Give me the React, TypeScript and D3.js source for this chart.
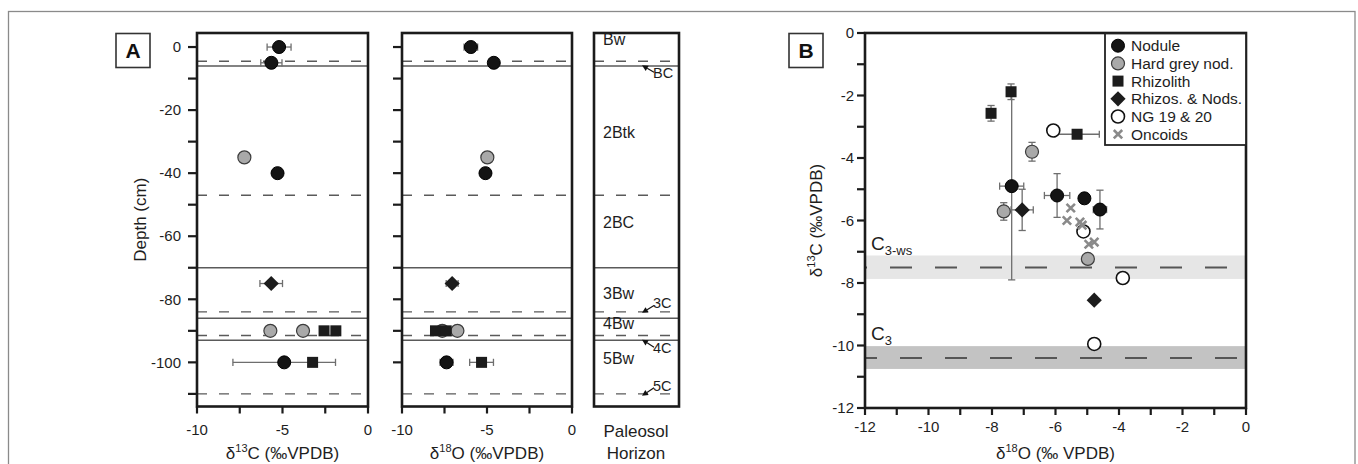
import React from "react";
import * as d3 from "d3";

const FONT = "'Liberation Sans', Arial, Helvetica, sans-serif";

// ---------- Panel A data (depth profile) ----------
const sampleDepth = [0, -5, -35, -40, -75, -90, -90, -90, -90, -100, -100];
const sampleType = [
  "Nodule", "Nodule", "Hard grey nod.", "Nodule", "Rhizos. & Nods.",
  "Hard grey nod.", "Hard grey nod.", "Rhizolith", "Rhizolith", "Nodule", "Rhizolith",
];
const sampleD13C = [-5.2, -5.65, -7.23, -5.29, -5.66, -5.71, -3.8, -2.57, -1.88, -4.9, -3.24];
const sampleD18O = [-5.95, -4.6, -4.98, -5.09, -7.05, -7.63, -6.74, -8.03, -7.4, -7.38, -5.32];
const sampleErr13 = [0.7, 0.62, 0, 0, 0.66, 0.28, 0.3, 0.25, 0.25, 3.0, 0];
const sampleErr18 = [0.4, 0.21, 0, 0, 0.35, 0.1, 0.1, 0, 0, 0.38, 0.7];

const boundaryDepth = [-4.5, -6, -47, -70, -84, -86, -91.5, -93, -110];
const boundaryKind = ["gradual", "sharp", "gradual", "sharp", "gradual", "sharp", "gradual", "sharp", "gradual"];

const horizonName = ["Bw", "2Btk", "2BC", "3Bw", "4Bw", "5Bw"];
const horizonDepth = [2.3, -27, -55.6, -78, -87.6, -98.7];
const transitionName = ["BC", "3C", "4C", "5C"];
const transitionLabelDepth = [-8.3, -81.3, -95.5, -107.4];
const transitionTargetDepth = [-5.8, -84.3, -92.8, -110.6];

const depthTicks = [0, -10, -20, -30, -40, -50, -60, -70, -80, -90, -100, -110];
const depthLabels = [0, -20, -40, -60, -80, -100];
const isoTicksA = [-10, -7.5, -5, -2.5, 0];
const isoLabelsA = [-10, -5, 0];

// ---------- Panel B extra data ----------
const ngD18O = [-6.07, -5.12, -3.88, -4.78];
const ngD13C = [-3.12, -6.35, -7.84, -9.95];
const oncoidD18O = [-5.52, -5.64, -5.23, -5.16, -4.95, -4.78];
const oncoidD13C = [-5.6, -6.0, -6.05, -6.15, -6.76, -6.69];
const extraRhizNodD18O = [-4.78];
const extraRhizNodD13C = [-8.55];

const bandNames = ["3-ws", "3"];
const bandTop = [-7.12, -10.02];
const bandBottom = [-7.87, -10.75];
const bandMean = [-7.5, -10.4];

const legendNames = ["Nodule", "Hard grey nod.", "Rhizolith", "Rhizos. & Nods.", "NG 19 & 20", "Oncoids"];

const bTicksX = [-12, -11, -10, -9, -8, -7, -6, -5, -4, -3, -2, -1, 0];
const bLabelsX = [-12, -10, -8, -6, -4, -2, 0];
const bTicksY = [0, -1, -2, -3, -4, -5, -6, -7, -8, -9, -10, -11, -12];
const bLabelsY = [0, -2, -4, -6, -8, -10, -12];

// ---------- layout ----------
const A_TOP = 33;
const A_BOTTOM = 406.5;
const yA = d3.scaleLinear().domain([4.45, -114]).range([A_TOP, A_BOTTOM]);
const x13 = d3.scaleLinear().domain([-10, 0]).range([197, 368]);
const x18 = d3.scaleLinear().domain([-10, 0]).range([402, 572]);
const HZ_L = 594;
const HZ_R = 679;

const xB = d3.scaleLinear().domain([-12, 0]).range([865, 1246]);
const yB = d3.scaleLinear().domain([0, -12]).range([33, 408]);

const DARK = "#1b1b1b";
const GRID = "#5a5a5a";
const ERR = "#6e6e6e";
const TXT = "#1e1e1e";

function Marker({ type, x, y }: { type: string; x: number; y: number }) {
  const r = 6.5;
  if (type === "Nodule") return <circle cx={x} cy={y} r={r} fill="#141414" stroke="#000" strokeWidth={1} />;
  if (type === "Hard grey nod.") return <circle cx={x} cy={y} r={r} fill="#a9a9a9" stroke="#3c3c3c" strokeWidth={1.2} />;
  if (type === "Rhizolith") return <rect x={x - 5.5} y={y - 5.5} width={11} height={11} fill="#1c1c1c" />;
  if (type === "Rhizos. & Nods.") {
    const d = 7.6;
    return <path d={`M${x},${y - d}L${x + d},${y}L${x},${y + d}L${x - d},${y}Z`} fill="#1c1c1c" />;
  }
  if (type === "NG 19 & 20") return <circle cx={x} cy={y} r={r} fill="#fff" stroke="#111" strokeWidth={1.6} />;
  const s = 4.2;
  return (
    <path d={`M${x - s},${y - s}L${x + s},${y + s}M${x - s},${y + s}L${x + s},${y - s}`} stroke="#8a8a8a" strokeWidth={2.6} />
  );
}

function ErrH({ y, x0, x1 }: { y: number; x0: number; x1: number }) {
  const c = 3.6;
  return (
    <g stroke={ERR} strokeWidth={1.3}>
      <line x1={x0} x2={x1} y1={y} y2={y} />
      <line x1={x0} x2={x0} y1={y - c} y2={y + c} />
      <line x1={x1} x2={x1} y1={y - c} y2={y + c} />
    </g>
  );
}
function ErrV({ x, y0, y1 }: { x: number; y0: number; y1: number }) {
  const c = 3.6;
  return (
    <g stroke={ERR} strokeWidth={1.3}>
      <line x1={x} x2={x} y1={y0} y2={y1} />
      <line x1={x - c} x2={x + c} y1={y0} y2={y0} />
      <line x1={x - c} x2={x + c} y1={y1} y2={y1} />
    </g>
  );
}

function Boundaries({ x0, x1 }: { x0: number; x1: number }) {
  return (
    <g>
      {boundaryDepth.map((d, i) => (
        <line
          key={i}
          x1={x0}
          x2={x1}
          y1={yA(d)}
          y2={yA(d)}
          stroke={GRID}
          strokeWidth={1.4}
          strokeDasharray={boundaryKind[i] === "gradual" ? "10 12" : undefined}
        />
      ))}
    </g>
  );
}

function DepthPlot({ xs, vals, errs, leftLabels }: { xs: any; vals: number[]; errs: number[]; leftLabels: boolean }) {
  const [l, r] = xs.range();
  return (
    <g>
      <Boundaries x0={l} x1={r} />
      {vals.map((v, i) =>
        errs[i] > 0 ? <ErrH key={"e" + i} y={yA(sampleDepth[i])} x0={xs(v - errs[i])} x1={xs(v + errs[i])} /> : null
      )}
      {vals.map((v, i) => (
        <Marker key={"m" + i} type={sampleType[i]} x={xs(v)} y={yA(sampleDepth[i])} />
      ))}
      <rect x={l} y={A_TOP} width={r - l} height={A_BOTTOM - A_TOP} fill="none" stroke={DARK} strokeWidth={2.6} />
      {depthTicks
        .filter((t) => leftLabels || t > -110)
        .map((t) => (
          <line key={"yt" + t} x1={l - 9} x2={l} y1={yA(t)} y2={yA(t)} stroke={DARK} strokeWidth={2.2} />
        ))}
      {leftLabels &&
        depthLabels.map((t) => (
          <text key={"yl" + t} x={l - 16} y={yA(t)} dy="0.35em" textAnchor="end" fontSize={15} fill={TXT}>
            {t}
          </text>
        ))}
      {isoTicksA.map((t) => (
        <line key={"xt" + t} x1={xs(t)} x2={xs(t)} y1={A_BOTTOM} y2={A_BOTTOM + 7} stroke={DARK} strokeWidth={2.2} />
      ))}
      {isoLabelsA.map((t) => (
        <text key={"xl" + t} x={xs(t)} y={435} textAnchor="middle" fontSize={15} fill={TXT}>
          {t}
        </text>
      ))}
    </g>
  );
}

function Arrow({ x0, y0, x1, y1 }: { x0: number; y0: number; x1: number; y1: number }) {
  const ang = Math.atan2(y1 - y0, x1 - x0);
  const L = 6;
  const w = 3;
  const bx = x1 - L * Math.cos(ang);
  const by = y1 - L * Math.sin(ang);
  const px = -Math.sin(ang) * w;
  const py = Math.cos(ang) * w;
  return (
    <g>
      <line x1={x0} y1={y0} x2={bx} y2={by} stroke="#111" strokeWidth={1.2} />
      <path d={`M${x1},${y1}L${bx + px},${by + py}L${bx - px},${by - py}Z`} fill="#111" />
    </g>
  );
}

export default function App() {
  const bMarkers: { t: string; x: number; y: number }[] = [];
  sampleD13C.forEach((v, i) => bMarkers.push({ t: sampleType[i], x: sampleD18O[i], y: v }));
  extraRhizNodD18O.forEach((v, i) => bMarkers.push({ t: "Rhizos. & Nods.", x: v, y: extraRhizNodD13C[i] }));
  ngD18O.forEach((v, i) => bMarkers.push({ t: "NG 19 & 20", x: v, y: ngD13C[i] }));
  oncoidD18O.forEach((v, i) => bMarkers.push({ t: "Oncoids", x: v, y: oncoidD13C[i] }));

  return (
    <svg
      width={1358}
      height={464}
      style={{ position: "absolute", left: 0, top: 0, background: "#fff" }}
      fontFamily={FONT}
    >
      <rect x={0} y={0} width={1358} height={464} fill="#fff" />
      <rect x={8.5} y={11.5} width={1346.5} height={470} fill="none" stroke="#8a8a8a" strokeWidth={1.3} />

      {/* ---------------- Panel A ---------------- */}
      <rect x={116} y={33.5} width={34} height={34} fill="#fff" stroke="#333" strokeWidth={1.6} />
      <text x={133} y={58} textAnchor="middle" fontSize={21} fontWeight="bold" fill="#111">
        A
      </text>

      <DepthPlot xs={x13} vals={sampleD13C} errs={sampleErr13} leftLabels={true} />
      <DepthPlot xs={x18} vals={sampleD18O} errs={sampleErr18} leftLabels={false} />

      {/* horizon column */}
      <Boundaries x0={HZ_L} x1={HZ_R} />
      <rect x={HZ_L} y={A_TOP} width={HZ_R - HZ_L} height={A_BOTTOM - A_TOP} fill="none" stroke={DARK} strokeWidth={2.6} />
      {horizonName.map((h, i) => (
        <text key={h} x={HZ_L + 9} y={yA(horizonDepth[i])} dy="0.35em" fontSize={16} fill={TXT}>
          {h}
        </text>
      ))}
      {transitionName.map((t, i) => {
        const ty = yA(transitionLabelDepth[i]);
        const hy = yA(transitionTargetDepth[i]);
        return (
          <g key={t}>
            <Arrow x0={HZ_L + 60} y0={ty + (hy < ty ? -1 : 2)} x1={HZ_L + 48} y1={hy} />
            <text x={HZ_L + 59} y={ty} dy="0.35em" fontSize={14.5} fill={TXT}>
              {t}
            </text>
          </g>
        );
      })}
      <text x={636} y={437} textAnchor="middle" fontSize={17} fill={TXT}>
        Paleosol
      </text>
      <text x={636} y={459} textAnchor="middle" fontSize={17} fill={TXT}>
        Horizon
      </text>

      <text transform={`translate(146,${(A_TOP + A_BOTTOM) / 2}) rotate(-90)`} textAnchor="middle" fontSize={17} fill={TXT}>
        Depth (cm)
      </text>
      <text x={(197 + 368) / 2} y={459} textAnchor="middle" fontSize={17} fill={TXT}>
        δ<tspan fontSize={11} dy={-7}>13</tspan>
        <tspan dy={7}>C (‰VPDB)</tspan>
      </text>
      <text x={(402 + 572) / 2} y={459} textAnchor="middle" fontSize={17} fill={TXT}>
        δ<tspan fontSize={11} dy={-7}>18</tspan>
        <tspan dy={7}>O (‰VPDB)</tspan>
      </text>

      {/* ---------------- Panel B ---------------- */}
      <rect x={789} y={33.5} width={34} height={34} fill="#fff" stroke="#333" strokeWidth={1.6} />
      <text x={806} y={58} textAnchor="middle" fontSize={21} fontWeight="bold" fill="#111">
        B
      </text>

      {bandNames.map((n, i) => (
        <g key={n}>
          <rect
            x={xB(-12)}
            y={yB(bandTop[i])}
            width={xB(0) - xB(-12)}
            height={yB(bandBottom[i]) - yB(bandTop[i])}
            fill={i === 0 ? "#e6e6e6" : "#c3c3c3"}
          />
          <line
            x1={xB(-12)}
            x2={xB(0)}
            y1={yB(bandMean[i])}
            y2={yB(bandMean[i])}
            stroke="#555"
            strokeWidth={2}
            strokeDasharray="22 23"
            strokeDashoffset={i === 0 ? 20 : 10}
          />
          <text x={xB(-12) + 6} y={yB(bandTop[i]) - 6} fontSize={19} fill={TXT}>
            C<tspan fontSize={13} dy={5}>{n}</tspan>
          </text>
        </g>
      ))}

      {/* error bars */}
      {sampleD13C.map((v, i) => (
        <g key={"be" + i}>
          {sampleErr13[i] > 0 && (
            <ErrV x={xB(sampleD18O[i])} y0={yB(v + sampleErr13[i])} y1={yB(v - sampleErr13[i])} />
          )}
          {sampleErr18[i] > 0 && (
            <ErrH y={yB(v)} x0={xB(sampleD18O[i] - sampleErr18[i])} x1={xB(sampleD18O[i] + sampleErr18[i])} />
          )}
        </g>
      ))}
      {bMarkers.map((m, i) => (
        <Marker key={"bm" + i} type={m.t} x={xB(m.x)} y={yB(m.y)} />
      ))}

      {/* frame and axes */}
      <rect x={xB(-12)} y={yB(0)} width={xB(0) - xB(-12)} height={yB(-12) - yB(0)} fill="none" stroke={DARK} strokeWidth={2.6} />
      {bTicksY.map((t) => (
        <line key={"byt" + t} x1={xB(-12) - 8} x2={xB(-12)} y1={yB(t)} y2={yB(t)} stroke={DARK} strokeWidth={2.2} />
      ))}
      {bLabelsY.map((t) => (
        <text key={"byl" + t} x={xB(-12) - 11} y={yB(t)} dy="0.35em" textAnchor="end" fontSize={15} fill={TXT}>
          {t}
        </text>
      ))}
      {bTicksX.map((t) => (
        <line key={"bxt" + t} x1={xB(t)} x2={xB(t)} y1={yB(-12)} y2={yB(-12) + 7} stroke={DARK} strokeWidth={2.2} />
      ))}
      {bLabelsX.map((t) => (
        <text key={"bxl" + t} x={xB(t)} y={432} textAnchor="middle" fontSize={15} fill={TXT}>
          {t}
        </text>
      ))}
      <text x={(865 + 1246) / 2} y={459} textAnchor="middle" fontSize={17} fill={TXT}>
        δ<tspan fontSize={11} dy={-7}>18</tspan>
        <tspan dy={7}>O (‰ VPDB)</tspan>
      </text>
      <text transform={`translate(822,${(33 + 408) / 2}) rotate(-90)`} textAnchor="middle" fontSize={17} fill={TXT}>
        δ<tspan fontSize={11} dy={-7}>13</tspan>
        <tspan dy={7}>C (‰VPDB)</tspan>
      </text>

      {/* legend */}
      <rect x={1105} y={33.5} width={141} height={111.5} fill="#fff" stroke="#222" strokeWidth={1.8} />
      {legendNames.map((n, i) => {
        const ly = 45.7 + i * 17.7;
        return (
          <g key={n}>
            <Marker type={n} x={1118} y={ly} />
            <text x={1131} y={ly} dy="0.36em" fontSize={15.5} fill={TXT}>
              {n}
            </text>
          </g>
        );
      })}
    </svg>
  );
}
